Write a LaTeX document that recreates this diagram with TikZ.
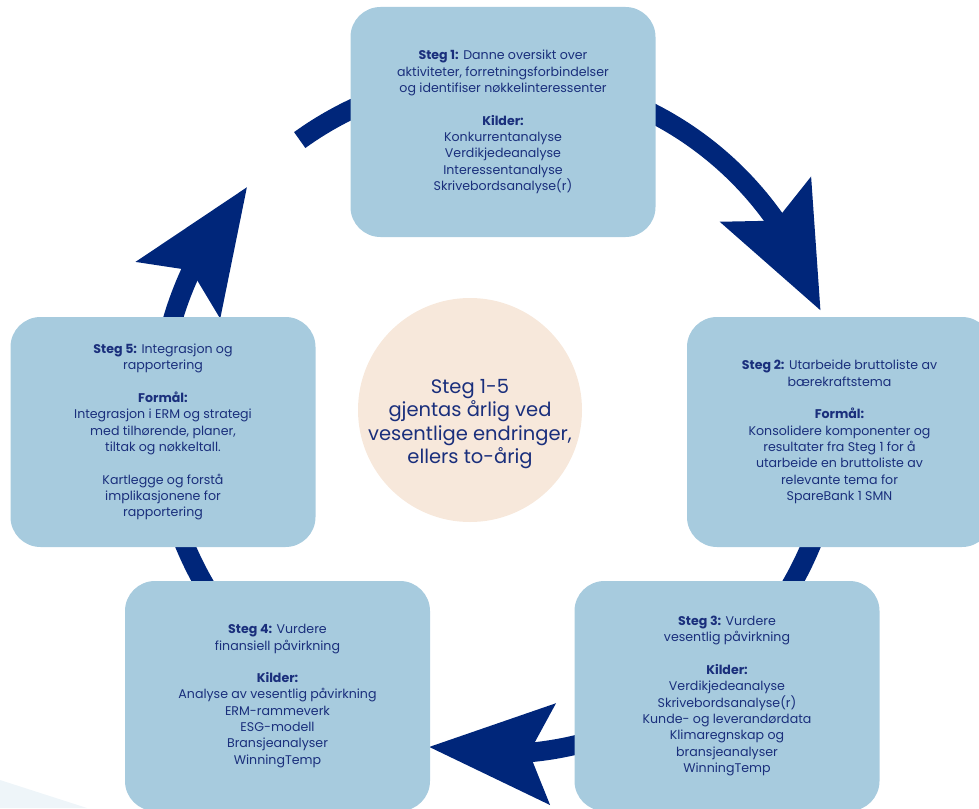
\documentclass[tikz,border=0pt]{standalone}
\usepackage{fontspec}
\setsansfont{Poppins}
\usepackage[usenames,dvipsnames]{xcolor}
\usepackage{tikz}
\usetikzlibrary{arrows.meta,bending,calc}
\definecolor{navy}{HTML}{00267A}
\definecolor{ink}{HTML}{1A2F7C}
\definecolor{boxblue}{HTML}{A7CBDE}
\definecolor{peach}{HTML}{F7E8DB}
\definecolor{haze}{HTML}{EEF5F9}
\pgfdeclarelayer{background}
\pgfsetlayers{background,main}

\begin{document}
\begin{tikzpicture}[x=1pt,y=-1pt]
    \sffamily

    \tikzset{AR/.style={draw=navy,line width=19.5pt}}
    \tikzset{AH/.style={-{Stealth[length=124pt,width=102pt,inset=24pt,line width=0pt,flex]}}}
    \tikzset{SB/.style={fill=boxblue,rounded corners=30pt,minimum width=305pt,minimum height=230pt,inner sep=0pt,align=center,text=ink,font=\fontsize{12.6}{16.3}\selectfont}}
    \tikzset{HC/.style={circle,fill=peach,minimum size=224pt,inner sep=0pt}}
    \tikzset{HT/.style={align=center,text=ink,font=\fontsize{19.5}{23.5}\selectfont}}

    \useasboundingbox (0,0) rectangle (979,808);
    \fill[haze] (0,780) -- (87,808) -- (0,808) -- cycle;

    \node (s1) [SB] at (503,122) {\textbf{Steg 1:} Danne oversikt over\\aktiviteter, forretningsforbindelser\\og identifiser nøkkelinteressenter\\[16.3pt]\textbf{Kilder:}\\Konkurrentanalyse\\Verdikjedeanalyse\\Interessentanalyse\\Skrivebordsanalyse(r)};
    \node (s2) [SB] at (839.5,432) {\textbf{Steg 2:} Utarbeide bruttoliste av\\bærekraftstema\\[16.3pt]\textbf{Formål:}\\Konsolidere komponenter og\\resultater fra Steg 1 for å\\utarbeide en bruttoliste av\\relevante tema for\\SpareBank 1 SMN};
    \node (s3) [SB] at (727,696) {\textbf{Steg 3:} Vurdere\\vesentlig påvirkning\\[16.3pt]\textbf{Kilder:}\\Verdikjedeanalyse\\Skrivebordsanalyse(r)\\Kunde- og leverandørdata\\Klimaregnskap og\\bransjeanalyser\\WinningTemp};
    \node (s4) [SB] at (277.5,696) {\textbf{Steg 4:} Vurdere\\finansiell påvirkning\\[16.3pt]\textbf{Kilder:}\\Analyse av vesentlig påvirkning\\ERM-rammeverk\\ESG-modell\\Bransjeanalyser\\WinningTemp};
    \node (s5) [SB] at (163,432) {\textbf{Steg 5:} Integrasjon og\\rapportering\\[16.3pt]\textbf{Formål:}\\Integrasjon i ERM og strategi\\med tilhørende, planer,\\tiltak og nøkkeltall.\\[16.3pt]Kartlegge og forstå\\implikasjonene for\\rapportering};
    \node (mid) [HC] at (470,410) {};
    \node (midtxt) [HT] at (470,424) {Steg 1-5\\gjentas årlig ved\\vesentlige endringer,\\ellers to-årig};

    % ring behind the steps
    \coordinate (c) at (498,415);
    \coordinate (r1) at ($(c)+(234.2:339)$);
    \coordinate (r2) at ($(c)+(350:339)$);
    \coordinate (r3) at ($(c)+(60:339)$);
    \coordinate (r4) at ($(c)+(130:339)$);
    \coordinate (r5) at ($(c)+(190:339)$);

    \begin{pgfonlayer}{background}
        \path[AR,AH] (r1) arc[start angle=234.2,end angle=342,radius=339];
        \path[AR] (r2) arc[start angle=350,end angle=410,radius=339];
        \path[AR,AH] (r3) arc[start angle=60,end angle=101.7,radius=339];
        \path[AR] (r4) arc[start angle=130,end angle=165,radius=339];
        \path[AR,AH] (r5) arc[start angle=190,end angle=222.2,radius=339];
    \end{pgfonlayer}
\end{tikzpicture}
\end{document}
